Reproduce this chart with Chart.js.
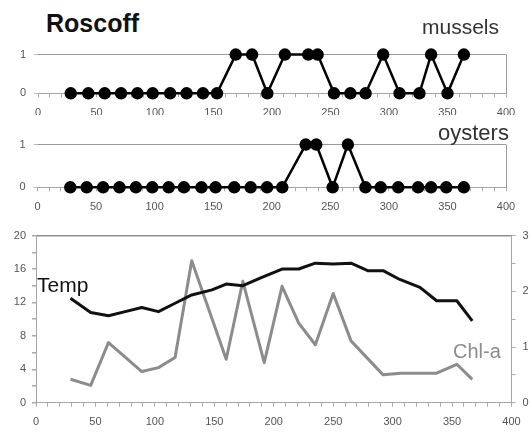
<!DOCTYPE html>
<html>
<head>
<meta charset="utf-8">
<script src="https://cdn.jsdelivr.net/npm/chart.js@4/dist/chart.umd.min.js"></script>
<style>
  body { margin: 0; background: #fff; width: 532px; height: 437px; position: relative; overflow: hidden;
         font-family: "Liberation Sans", Arial, sans-serif; }
  .panel { position: absolute; left: 0; width: 532px; }
  .lbl { position: absolute; white-space: nowrap; line-height: 1; }
</style>
</head>
<body>
<div class="panel" style="top:40px;height:75px"><canvas id="mussels"></canvas></div>
<div class="panel" style="top:130px;height:80px"><canvas id="oysters"></canvas></div>
<div class="panel" style="top:222px;height:215px"><canvas id="env"></canvas></div>

<div class="lbl" style="left:46px;top:11px;font-size:25px;font-weight:bold;color:#111">Roscoff</div>
<div class="lbl" style="left:422px;top:16px;font-size:21px;color:#333">mussels</div>
<div class="lbl" style="left:438px;top:122px;font-size:22px;color:#333">oysters</div>
<div class="lbl" style="left:37px;top:274px;font-size:21px;color:#111">Temp</div>
<div class="lbl" style="left:453px;top:341px;font-size:20px;color:#8c8c8c">Chl-a</div>

<script>
// sampling days (day of year) and presence (1) / absence (0)
const musselDays = [28, 43, 57, 71, 85, 98, 113, 127, 141, 153, 169, 183, 196, 211, 231, 239, 253, 267, 280, 295, 309, 326, 336, 350, 364];
const musselPresence = [0, 0, 0, 0, 0, 0, 0, 0, 0, 0, 1, 1, 0, 1, 1, 1, 0, 0, 0, 1, 0, 0, 1, 0, 1];

const oysterDays = [28, 42, 56, 70, 84, 98, 112, 125, 140, 152, 168, 182, 196, 209, 229, 238, 252, 265, 280, 293, 308, 325, 336, 349, 364];
const oysterPresence = [0, 0, 0, 0, 0, 0, 0, 0, 0, 0, 0, 0, 0, 0, 1, 1, 0, 1, 0, 0, 0, 0, 0, 0, 0];

// water temperature (left axis)
const tempDays = [29, 46, 61, 75, 89, 103, 117, 131, 148, 160, 174, 190, 207, 221, 235, 250, 265, 279, 292, 306, 323, 337, 354, 367];
const tempValues = [12.5, 10.8, 10.4, 10.9, 11.4, 10.9, 11.9, 12.9, 13.5, 14.2, 14.0, 15.0, 16.0, 16.0, 16.7, 16.6, 16.7, 15.8, 15.8, 14.75, 13.8, 12.2, 12.2, 9.8];

// chlorophyll a (right axis)
const chlDays = [29, 46, 61, 89, 103, 117, 131, 160, 174, 192, 207, 221, 235, 250, 265, 292, 307, 323, 337, 354, 367];
const chlValues = [0.42, 0.31, 1.08, 0.56, 0.63, 0.81, 2.55, 0.78, 2.18, 0.72, 2.09, 1.43, 1.04, 1.96, 1.11, 0.50, 0.53, 0.53, 0.53, 0.69, 0.42];

const dayTicks = [0, 400];

Chart.defaults.font.family = '"Liberation Sans", Arial, sans-serif';
Chart.defaults.font.size = 11;
Chart.defaults.color = '#555';
Chart.defaults.animation = false;

const toPoints = (xs, ys) => xs.map((x, i) => ({ x, y: ys[i] }));

// x axis shared by all three panels: minor ticks every 10, labels every 50
function dayAxis(height, rightLine) {
  return {
    type: 'linear',
    min: dayTicks[0],
    max: dayTicks[1],
    afterFit: s => { s.height = height; },
    ticks: {
      stepSize: 10,
      autoSkip: false,
      maxRotation: 0,
      padding: 9,
      callback: v => (v % 50 === 0 ? v : '')
    },
    grid: {
      drawOnChartArea: rightLine,
      color: ctx => (ctx.tick && ctx.tick.value === 400 ? '#9a9a9a' : 'rgba(0,0,0,0)'),
      tickColor: '#aaa',
      tickLength: 4
    },
    border: { color: '#a6a6a6', width: 1 }
  };
}

function presenceChart(id, days, values, padTop, axisHeight, yWidth) {
  return new Chart(document.getElementById(id), {
    type: 'scatter',
    data: {
      datasets: [{
        data: toPoints(days, values),
        showLine: true,
        borderColor: '#000',
        backgroundColor: '#000',
        borderWidth: 2.5,
        pointRadius: 5,
        pointHoverRadius: 5,
        clip: false
      }]
    },
    options: {
      responsive: true,
      maintainAspectRatio: false,
      layout: { padding: { top: padTop, right: 26, left: 0, bottom: 0 } },
      scales: {
        x: dayAxis(axisHeight, true),
        y: {
          min: 0,
          max: 1,
          afterFit: s => { s.width = yWidth; },
          ticks: { stepSize: 1, padding: 8 },
          grid: {
            color: ctx => (ctx.tick && ctx.tick.value === 1 ? '#9a9a9a' : 'rgba(0,0,0,0)'),
            tickColor: '#bbb',
            tickLength: 4
          },
          border: { display: false }
        }
      },
      plugins: { legend: { display: false }, tooltip: { enabled: false } }
    }
  });
}

presenceChart('mussels', musselDays, musselPresence, 10, 21.7, 38);
presenceChart('oysters', oysterDays, oysterPresence, 14, 22.7, 37.5);

new Chart(document.getElementById('env'), {
  type: 'scatter',
  data: {
    datasets: [
      {
        label: 'Temp',
        data: toPoints(tempDays, tempValues),
        showLine: true,
        borderColor: '#111',
        borderWidth: 3,
        borderJoinStyle: 'round',
        pointRadius: 0,
        yAxisID: 'y'
      },
      {
        label: 'Chl-a',
        data: toPoints(chlDays, chlValues),
        showLine: true,
        borderColor: '#8c8c8c',
        borderWidth: 3,
        borderJoinStyle: 'round',
        pointRadius: 0,
        yAxisID: 'y1'
      }
    ]
  },
  options: {
    responsive: true,
    maintainAspectRatio: false,
    layout: { padding: { top: 10.7, right: 0, left: 0, bottom: 0 } },
    scales: {
      x: dayAxis(34.3, false),
      y: {
        position: 'left',
        min: 0,
        max: 20,
        afterFit: s => { s.width = 36; },
        ticks: { stepSize: 2, padding: 6, callback: v => (v % 4 === 0 ? v : '') },
        grid: {
          color: ctx => (ctx.tick && ctx.tick.value === 20 ? '#8f8f8f' : 'rgba(0,0,0,0)'),
          lineWidth: 1.5,
          tickColor: '#aaa',
          tickLength: 4
        },
        border: { color: '#a6a6a6' }
      },
      y1: {
        position: 'right',
        min: 0,
        max: 3,
        afterFit: s => { s.width = 20.5; },
        ticks: { stepSize: 0.5, padding: 7, callback: v => (Number.isInteger(v) ? v : '') },
        grid: { drawOnChartArea: false, tickColor: '#aaa', tickLength: 4 },
        border: { color: '#a6a6a6' }
      }
    },
    plugins: { legend: { display: false }, tooltip: { enabled: false } }
  }
});
</script>
</body>
</html>
